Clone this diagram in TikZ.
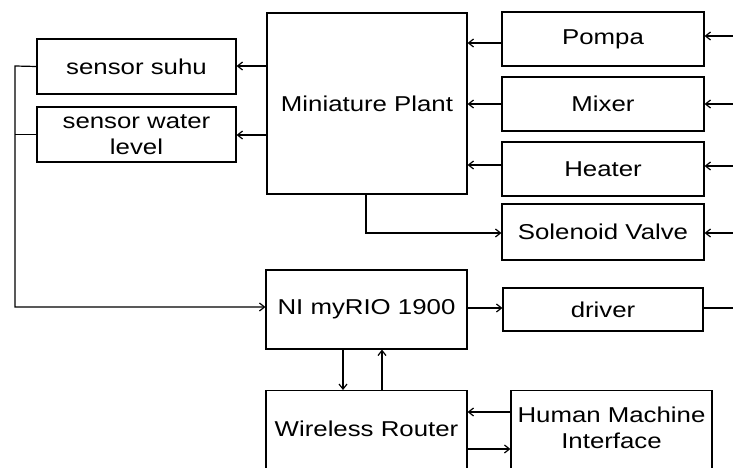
\documentclass[tikz,border=0pt]{standalone}
\usepackage{fontspec}
\setmainfont[FakeStretch=1.2]{Liberation Sans}
\usetikzlibrary{arrows.meta}
\begin{document}
\begin{tikzpicture}[x=1pt,y=-1pt,
  box/.style={draw,line width=1.2pt,inner sep=0pt,align=center,font=\fontsize{21.5}{25.5}\selectfont},
  lbl/.style={inner sep=0pt,align=center,font=\fontsize{21.5}{25.5}\selectfont},
  conn/.style={line width=1.2pt},
  arr/.style={conn,-{Straight Barb[length=5pt,width=8pt]}}]
\clip (0,0) rectangle (733,468);
\fill[white] (0,0) rectangle (733,468);
% boxes
\node[box,minimum width=199,minimum height=55] (suhu) at (136.5,66.5) {sensor suhu};
\node[box,minimum width=199,minimum height=55] (water) at (136.5,134.5) {sensor water\\level};
\node[box,minimum width=200,minimum height=181] (plant) at (367,103.5) {};
\node[lbl] (planttxt) at (367,104) {Miniature Plant};
\node[box,minimum width=202,minimum height=54] (pompa) at (603,39) {Pompa};
\node[box,minimum width=202,minimum height=54] (mixer) at (603,104) {Mixer};
\node[box,minimum width=202,minimum height=54] (heater) at (603,169) {Heater};
\node[box,minimum width=202,minimum height=56] (sol) at (603,232) {Solenoid Valve};
\node[box,minimum width=201,minimum height=79] (rio) at (366.5,309.5) {NI myRIO 1900};
\node[box,minimum width=200,minimum height=43] (driver) at (603,309.5) {driver};
\node[box,minimum width=201,minimum height=110,anchor=north] (router) at (366.5,390) {};
\node[lbl] (routertxt) at (366.5,429) {Wireless Router};
\node[box,minimum width=201,minimum height=110,anchor=north] (hmi) at (611.5,390) {};
\node[lbl] (hmitxt) at (611.5,428) {Human Machine\\Interface};
% free ends
\coordinate (inP) at (733,36);
\coordinate (inM) at (733,104);
\coordinate (inH) at (733,166);
\coordinate (inS) at (733,233);
\coordinate (outD) at (733,308);
\coordinate (fb) at (15,66);
% plant to sensors
\draw[arr] (plant.west |- 0,66) -- (suhu.east |- 0,66);
\draw[arr] (plant.west |- 0,135) -- (water.east |- 0,135);
% actuators to plant
\draw[arr] (pompa.west |- 0,43) -- (plant.east |- 0,43);
\draw[arr] (mixer.west |- 0,104) -- (plant.east |- 0,104);
\draw[arr] (heater.west |- 0,165) -- (plant.east |- 0,165);
% inputs from right
\draw[arr] (inP) -- (pompa.east |- inP);
\draw[arr] (inM) -- (mixer.east |- inM);
\draw[arr] (inH) -- (heater.east |- inH);
\draw[arr] (inS) -- (sol.east |- inS);
% plant to solenoid
\draw[arr] (plant.south -| 366,0) -- (366,233) -- (sol.west |- 0,233);
% feedback
\draw[arr] (suhu.west) -- (fb) -- (15,307) -- (rio.west |- 0,307);
\draw[conn] (water.west) -- (fb |- water.west);
% myRIO to driver
\draw[arr] (rio.east |- 0,308) -- (driver.west |- 0,308);
\draw[conn] (driver.east |- outD) -- (outD);
% myRIO <-> router
\draw[arr] (rio.south -| 343,0) -- (router.north -| 343,0);
\draw[arr] (router.north -| 382,0) -- (rio.south -| 382,0);
% router <-> HMI
\draw[arr] (hmi.west |- 0,412) -- (router.east |- 0,412);
\draw[arr] (router.east |- 0,449) -- (hmi.west |- 0,449);
\end{tikzpicture}
\end{document}
